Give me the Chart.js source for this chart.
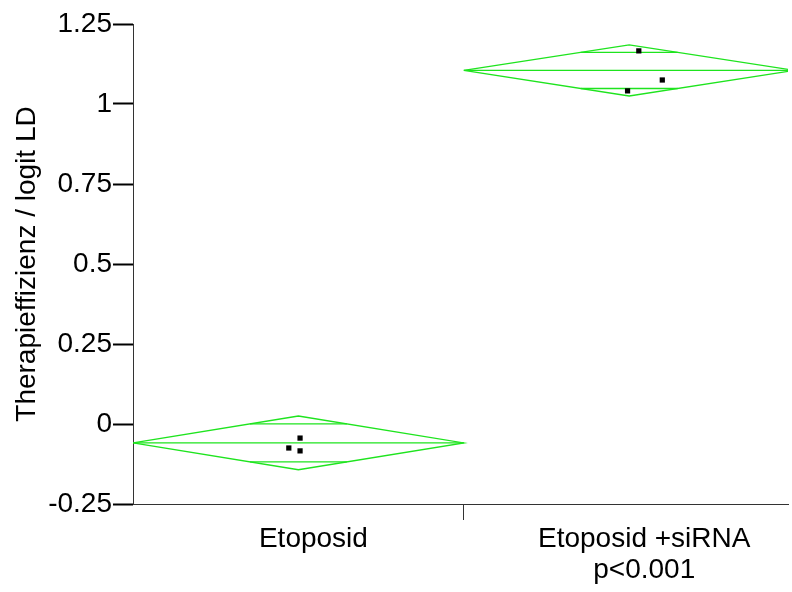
<!DOCTYPE html>
<html>
<head>
<meta charset="utf-8">
<script src="https://cdn.jsdelivr.net/npm/chart.js@4.4.1/dist/chart.umd.min.js"></script>
<style>
  html, body { margin: 0; padding: 0; background: #fff; }
</style>
</head>
<body>
<canvas id="chart" width="792" height="592"></canvas>
<script>
// group labels and summary values (means diamond: mean +/- 95% CI)
const categories = ['Etoposid', ['Etoposid +siRNA', 'p<0.001']];
const means = [-0.059, 1.105];
const ciHalf = [0.084, 0.080];
// raw observations per group
const pointsEtoposid = [-0.044, -0.075, -0.084];
const pointsSiRNA = [1.166, 1.075, 1.041];
// horizontal jitter of the raw points (in category units)
const jitterEtoposid = [0.005, -0.029, 0.005];
const jitterSiRNA = [0.029, 0.100, -0.005];
const yTicks = [-0.25, 0, 0.25, 0.5, 0.75, 1, 1.25];

const green = 'rgb(30,228,30)';
const groups = [
    { center: 1, pts: pointsEtoposid, jit: jitterEtoposid },
    { center: 2, pts: pointsSiRNA, jit: jitterSiRNA }
];

const datasets = [];
groups.forEach((g, i) => {
    const c = g.center, m = means[i], h = ciHalf[i];
    const d = h / Math.SQRT2;
    const w = 0.5 * (1 - 1 / Math.SQRT2);
    const line = data => ({
        data: data, showLine: true, pointRadius: 0, borderColor: green,
        borderWidth: 1.3, fill: false, order: 2
    });
    // diamond outline
    datasets.push(line([
        { x: c - 0.5, y: m }, { x: c, y: m + h }, { x: c + 0.5, y: m },
        { x: c, y: m - h }, { x: c - 0.5, y: m }
    ]));
    // mean line
    datasets.push(line([{ x: c - 0.5, y: m }, { x: c + 0.5, y: m }]));
    // overlap marks
    datasets.push(line([{ x: c - w, y: m + d }, { x: c + w, y: m + d }]));
    datasets.push(line([{ x: c - w, y: m - d }, { x: c + w, y: m - d }]));
    // raw points
    datasets.push({
        data: g.pts.map((v, k) => ({ x: c + g.jit[k], y: v })),
        pointStyle: 'rect', pointRadius: 3.7, pointBackgroundColor: '#000',
        pointBorderColor: '#000', pointBorderWidth: 0, showLine: false, order: 1
    });
});

const font = { family: '"Liberation Sans", Arial, Helvetica, sans-serif', size: 28, lineHeight: 1.1 };

new Chart(document.getElementById('chart'), {
    type: 'scatter',
    data: { datasets: datasets },
    options: {
        responsive: false,
        devicePixelRatio: 1,
        animation: false,
        layout: { padding: { top: 24, right: 0, left: 0, bottom: 0 } },
        plugins: { legend: { display: false }, tooltip: { enabled: false } },
        scales: {
            x: {
                type: 'linear',
                min: 0.5,
                max: 2.48,
                afterBuildTicks: axis => {
                    axis.ticks = [{ value: 1 }, { value: 1.5 }, { value: 2 }];
                },
                afterFit: scale => { scale.height = 88; },
                ticks: {
                    font: font,
                    color: '#000',
                    padding: 4,
                    labelOffset: 15,
                    maxRotation: 0,
                    autoSkip: false,
                    callback: value => value === 1 ? categories[0] : (value === 2 ? categories[1] : '')
                },
                grid: {
                    drawOnChartArea: false,
                    drawTicks: true,
                    tickLength: 16,
                    color: ctx => (ctx.tick && ctx.tick.value === 1.5) ? '#333' : 'rgba(0,0,0,0)'
                },
                border: { display: true, color: '#333', width: 1 }
            },
            y: {
                min: -0.25,
                max: 1.25,
                afterBuildTicks: axis => {
                    axis.ticks = yTicks.map(v => ({ value: v }));
                },
                afterFit: scale => { scale.width = 133; },
                ticks: {
                    font: font,
                    color: '#000',
                    padding: 1,
                    callback: value => String(value)
                },
                grid: {
                    drawOnChartArea: false,
                    drawTicks: true,
                    tickLength: 20,
                    tickWidth: 2,
                    color: '#000'
                },
                border: { display: true, color: '#333', width: 1 },
                title: {
                    display: true,
                    text: 'Therapieffizienz / logit LD',
                    font: font,
                    color: '#000',
                    padding: { top: 12, bottom: 0 }
                }
            }
        }
    }
});
</script>
</body>
</html>
